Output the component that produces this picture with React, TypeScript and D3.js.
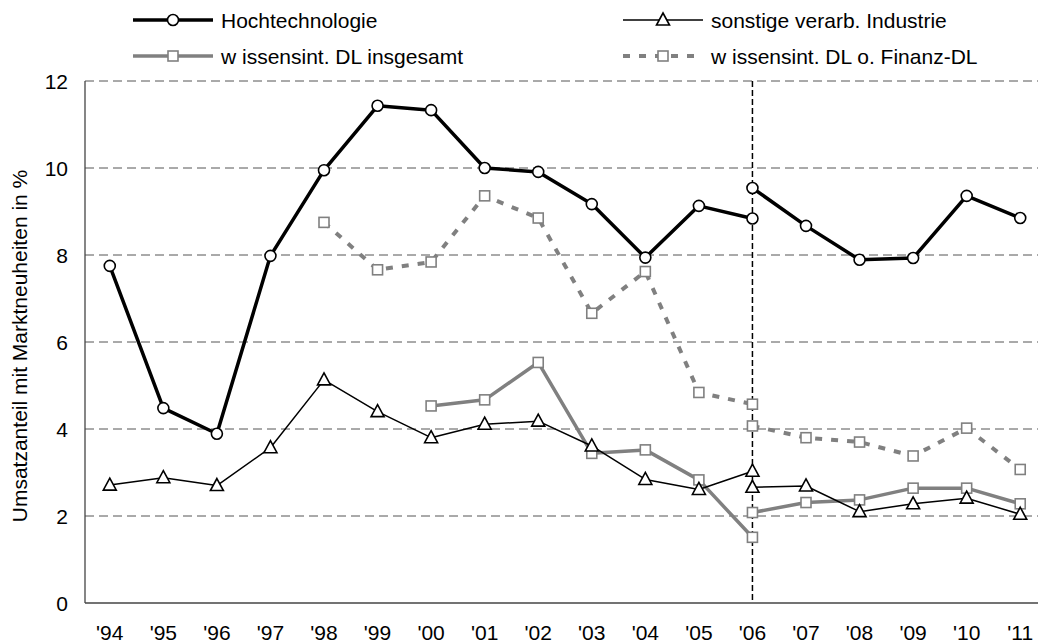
import React from "react";
import * as d3 from "d3";

const categories = ["'94", "'95", "'96", "'97", "'98", "'99", "'00", "'01", "'02", "'03", "'04", "'05", "'06", "'07", "'08", "'09", "'10", "'11"];
const yTicks = [0, 2, 4, 6, 8, 10, 12];

// values up to '06 (old definition) and from '06 on (new definition)
const hochPre: (number | null)[] = [7.75, 4.48, 3.89, 7.98, 9.95, 11.43, 11.33, 10.0, 9.91, 9.17, 7.94, 9.13, 8.84];
const hochPost: number[] = [9.54, 8.67, 7.89, 7.93, 9.36, 8.85];
const sonstPre: (number | null)[] = [2.71, 2.88, 2.70, 3.57, 5.13, 4.40, 3.80, 4.11, 4.18, 3.61, 2.84, 2.61, 3.03];
const sonstPost: number[] = [2.66, 2.69, 2.10, 2.28, 2.41, 2.04];
const dlPre: (number | null)[] = [null, null, null, null, null, null, 4.53, 4.67, 5.53, 3.44, 3.52, 2.83, 1.51];
const dlPost: number[] = [2.08, 2.31, 2.37, 2.64, 2.64, 2.28];
const dlofPre: (number | null)[] = [null, null, null, null, 8.75, 7.66, 7.84, 9.36, 8.85, 6.66, 7.62, 4.84, 4.57];
const dlofPost: number[] = [4.07, 3.80, 3.70, 3.38, 4.02, 3.07];

const seriesNames = ["Hochtechnologie", "sonstige verarb. Industrie", "w issensint. DL insgesamt", "w issensint. DL o. Finanz-DL"];

const W = 1038, H = 643;
const FONT = "'Liberation Sans', Arial, sans-serif";
const FS = 21;
const GREY = "#808080";

type Style = { color: string; width: number; dash?: string; marker: "circle" | "triangle" | "square" };
const styles: Style[] = [
  { color: "#000", width: 3.5, marker: "circle" },
  { color: "#000", width: 1.5, marker: "triangle" },
  { color: GREY, width: 3.5, marker: "square" },
  { color: GREY, width: 4, dash: "7,9", marker: "square" },
];

function Marker({ x, y, s }: { x: number; y: number; s: Style }) {
  if (s.marker === "circle")
    return <circle cx={x} cy={y} r={5.5} fill="#fff" stroke="#000" strokeWidth={1.6} />;
  if (s.marker === "triangle") {
    const path = `M${x},${y - 7}L${x + 6.5},${y + 5}L${x - 6.5},${y + 5}Z`;
    return <path d={path} fill="#fff" stroke="#000" strokeWidth={1.6} />;
  }
  return <rect x={x - 5} y={y - 5} width={10} height={10} fill="#fff" stroke={GREY} strokeWidth={1.6} />;
}

export default function App() {
  const x = d3.scaleBand<string>().domain(categories).range([83, 1047]);
  const cx = (c: string) => (x(c) as number) + x.bandwidth() / 2;
  const y = d3.scaleLinear().domain([0, 12]).range([603, 81]);
  const left = 85;
  const bottom = y(0);
  const top = y(12);

  const line = d3
    .line<[string, number | null]>()
    .defined((d) => d[1] !== null)
    .x((d) => cx(d[0]))
    .y((d) => y(d[1] as number));

  const all = [
    [hochPre, hochPost],
    [sonstPre, sonstPost],
    [dlPre, dlPost],
    [dlofPre, dlofPost],
  ];
  const breakIdx = 12;

  const segs = all.map(([pre, post]) => {
    const a: [string, number | null][] = pre.map((v, i) => [categories[i], v]);
    const b: [string, number | null][] = post.map((v, i) => [categories[breakIdx + i], v]);
    return [a, b];
  });

  // draw order: grey series below, black series on top
  const order = [3, 2, 1, 0];

  const legendPos = [
    { lx: 133, ly: 20 },
    { lx: 623, ly: 20 },
    { lx: 133, ly: 56 },
    { lx: 623, ly: 56 },
  ];

  return (
    <div style={{ position: "absolute", left: 0, top: 0 }}>
      <svg width={W} height={H} style={{ display: "block", background: "#fff" }} fontFamily={FONT}>
        {/* gridlines */}
        {yTicks.filter((t) => t > 0).map((t) => (
          <line key={t} x1={left} x2={W} y1={y(t)} y2={y(t)} stroke="#555" strokeWidth={1} strokeDasharray="9,5" />
        ))}
        {/* axes */}
        <line x1={left} x2={left} y1={top} y2={bottom} stroke="#444" strokeWidth={1.3} />
        <line x1={left} x2={W} y1={bottom} y2={bottom} stroke="#444" strokeWidth={1.3} />
        {/* y tick labels */}
        {yTicks.map((t) => (
          <text key={t} x={68} y={y(t)} dy="0.36em" textAnchor="end" fontSize={FS} fill="#000">
            {t}
          </text>
        ))}
        {/* x tick labels */}
        {categories.map((c) => (
          <text key={c} x={cx(c)} y={640} textAnchor="middle" fontSize={FS} fill="#000">
            {c}
          </text>
        ))}
        {/* y axis title */}
        <text
          transform={`translate(27, ${(top + bottom) / 2 + 4}) rotate(-90)`}
          textAnchor="middle"
          fontSize={FS}
          fill="#000"
        >
          Umsatzanteil mit Marktneuheiten in %
        </text>
        {/* break line at '06 */}
        <line x1={cx("'06")} x2={cx("'06")} y1={top} y2={bottom} stroke="#000" strokeWidth={1.5} strokeDasharray="6,3" />
        {/* series */}
        {order.map((si) => {
          const s = styles[si];
          return (
            <g key={si}>
              {segs[si].map((seg, k) => (
                <path
                  key={k}
                  d={line(seg) || ""}
                  fill="none"
                  stroke={s.color}
                  strokeWidth={s.width}
                  strokeDasharray={s.dash}
                  strokeLinejoin="round"
                />
              ))}
              {segs[si].map((seg, k) =>
                seg
                  .filter((d) => d[1] !== null)
                  .map((d) => <Marker key={`${k}-${d[0]}`} x={cx(d[0])} y={y(d[1] as number)} s={s} />)
              )}
            </g>
          );
        })}
        {/* legend */}
        {seriesNames.map((n, i) => {
          const s = styles[i];
          const { lx, ly } = legendPos[i];
          return (
            <g key={n}>
              <line x1={lx} x2={lx + 80} y1={ly} y2={ly} stroke={s.color} strokeWidth={s.width} strokeDasharray={s.dash} />
              <Marker x={lx + 40} y={ly} s={s} />
              <text x={lx + 88} y={ly} dy="0.36em" fontSize={FS} fill="#000">
                {n}
              </text>
            </g>
          );
        })}
      </svg>
    </div>
  );
}
